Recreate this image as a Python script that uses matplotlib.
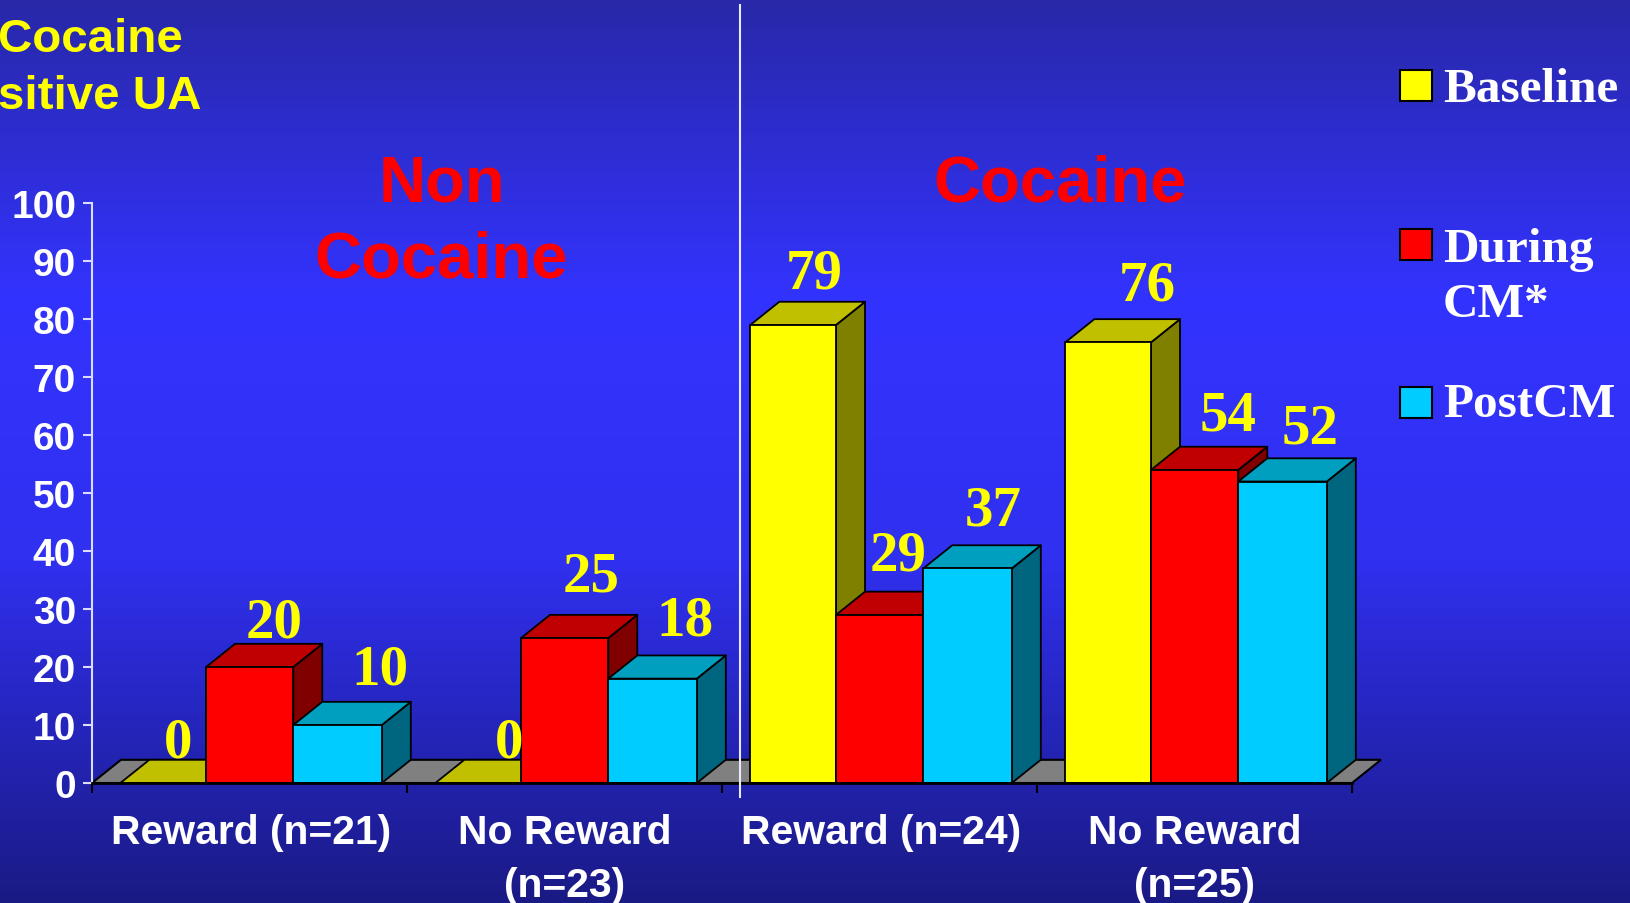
import numpy as np
import matplotlib
matplotlib.use("Agg")
import matplotlib.pyplot as plt
from matplotlib.colors import LinearSegmentedColormap
from matplotlib.patches import Polygon, Rectangle
from matplotlib.transforms import Affine2D

# --------------------------
# Data
# --------------------------
groups = ["Reward (n=21)", "No Reward\n(n=23)", "Reward (n=24)", "No Reward\n(n=25)"]
series = [["Baseline"], ["During", "CM*"], ["PostCM"]]
baseline = [0, 0, 79, 76]
during_cm = [20, 25, 29, 54]
post_cm = [10, 18, 37, 52]
y_ticks = list(range(0, 101, 10))

# --------------------------
# Style
# --------------------------
W, H = 1631, 904
SANS = "Liberation Sans"
SERIF = "Liberation Serif"
# front, top, side
face_colors = [
    ("#ffff00", "#c0c000", "#808000"),
    ("#ff0000", "#c00000", "#800000"),
    ("#00ccff", "#009fc0", "#006680"),
]
bar_edges = [(0.09, 0.362), (0.362, 0.639), (0.639, 0.92)]
DEPTH_X = 0.092
DEPTH_Y = 4.0
# label offsets from the back top edge of each bar, in pixels
label_dx = [[0, 10, 28], [16, 12, 18], [7, 4, 11], [25, 19, 13]]
label_dy = [[17, 21, 32], [17, 38, 35], [28, 36, 35], [34, 31, 30]]

fig = plt.figure(figsize=(W / 100, H / 100), dpi=100)

# --------------------------
# Background
# --------------------------
bg = fig.add_axes([0, 0, 1, 1], zorder=0)
cmap = LinearSegmentedColormap.from_list(
    "slide", [(0, "#2828a8"), (0.33, "#3333ff"), (0.62, "#3030f0"), (1, "#1a1a85")]
)
bg.imshow(np.linspace(0, 1, 256).reshape(-1, 1), cmap=cmap, aspect="auto")
bg.axis("off")

# --------------------------
# Chart
# --------------------------
ax = fig.add_axes(
    [92 / W, (H - 784) / H, (1352 - 92) / W, 579.8 / H], zorder=1, facecolor="none"
)
ax.set_xlim(0, len(groups))
ax.set_ylim(0, 100)

ax.add_patch(Polygon(
    [(0, 0), (4, 0), (4 + DEPTH_X, DEPTH_Y), (DEPTH_X, DEPTH_Y)],
    facecolor="#808080", edgecolor="black", linewidth=1.5, clip_on=False, zorder=1,
))

z = 2
for g in range(len(groups)):
    for s, values in enumerate([baseline, during_cm, post_cm]):
        v = values[g]
        x0, x1 = g + bar_edges[s][0], g + bar_edges[s][1]
        front, top_color, side = face_colors[s]
        faces = [
            (side, [(x1, 0), (x1 + DEPTH_X, DEPTH_Y), (x1 + DEPTH_X, v + DEPTH_Y), (x1, v)]),
            (top_color, [(x0, v), (x1, v), (x1 + DEPTH_X, v + DEPTH_Y), (x0 + DEPTH_X, v + DEPTH_Y)]),
            (front, [(x0, 0), (x1, 0), (x1, v), (x0, v)]),
        ]
        for color, pts in faces:
            ax.add_patch(Polygon(pts, facecolor=color, edgecolor="black",
                                 linewidth=1.3, joinstyle="round", clip_on=False, zorder=z))
            z += 1
        ax.annotate(
            str(v), ((x0 + x1) / 2 + DEPTH_X / 2, v + DEPTH_Y),
            xytext=(label_dx[g][s], label_dy[g][s]), textcoords="offset pixels",
            ha="center", va="center", color="#ffff00", fontsize=41,
            family=SERIF, fontweight="bold", zorder=200, annotation_clip=False,
        )

for name in ["top", "right"]:
    ax.spines[name].set_visible(False)
ax.spines["left"].set_color("#dcdcff")
ax.spines["left"].set_linewidth(1.5)
ax.spines["bottom"].set_color("black")
ax.spines["bottom"].set_linewidth(2)
ax.spines["bottom"].set_zorder(150)

ax.set_yticks(y_ticks)
ax.set_yticklabels([str(t) for t in y_ticks], color="white", fontsize=28,
                   family=SANS, fontweight="bold")
ax.tick_params(axis="y", color="#dcdcff", width=1.5, length=6.5, pad=5)

ax.set_xticks(np.arange(len(groups) + 1))
ax.set_xticklabels([""] * (len(groups) + 1))
ax.tick_params(axis="x", which="major", color="black", width=1.5, length=7)
ax.set_xticks(np.arange(len(groups)) + 0.5, groups, minor=True)
ax.tick_params(axis="x", which="minor", length=0, pad=21.5)
for label in ax.get_xticklabels(minor=True):
    label.set(color="white", fontsize=29.4, family=SANS, fontweight="bold",
              linespacing=1.49, va="top")
    # one-line labels sit slightly right of the group centre
    if "\n" not in label.get_text():
        label.set_transform(label.get_transform() + Affine2D().translate(2, 0))

# --------------------------
# Overlay: titles, divider, legend
# --------------------------
top = fig.add_axes([0, 0, 1, 1], zorder=2, facecolor="none")
top.set_xlim(0, W)
top.set_ylim(H, 0)
top.axis("off")

top.plot([740, 740], [6, 798], color="#e8e8ff", linewidth=1.5)

top.text(-2, 40, "Cocaine", color="#ffff00", fontsize=34.2, family=SANS,
         fontweight="bold", va="center")
top.text(-2, 97, "sitive UA", color="#ffff00", fontsize=34.2, family=SANS,
         fontweight="bold", va="center")

top.text(442, 184, "Non", color="#ff0000", fontsize=47, family=SANS,
         fontweight="bold", ha="center", va="center")
top.text(441, 261, "Cocaine", color="#ff0000", fontsize=47, family=SANS,
         fontweight="bold", ha="center", va="center")
top.text(1060, 184, "Cocaine", color="#ff0000", fontsize=47, family=SANS,
         fontweight="bold", ha="center", va="center")

legend_y = [71, 230, 388]
legend_baselines = [[102], [262, 317], [417]]
for s, lines in enumerate(series):
    top.add_patch(Rectangle((1400, legend_y[s]), 32, 31, facecolor=face_colors[s][0],
                            edgecolor="black", linewidth=1.5))
    for line, y in zip(lines, legend_baselines[s]):
        top.text(1443, y, line, color="white", fontsize=35.5, family=SERIF,
                 fontweight="bold", va="baseline")

fig.savefig("out.png", dpi=100)
plt.close(fig)
